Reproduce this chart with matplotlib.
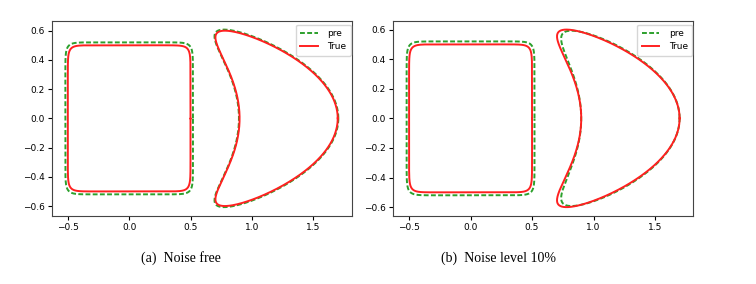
#!/usr/bin/env python3
"""Reconstructed boundaries vs. true shapes, noise free and 10% noise."""

import numpy as np
import matplotlib

matplotlib.use("Agg")
import matplotlib.pyplot as plt

# panel captions
captions = ["(a)  Noise free", "(b)  Noise level 10%"]
legend_labels = ["pre", "True"]

# rounded square: half widths (x, y) and superellipse exponent
square_true_half = [0.5, 0.5]
square_pre_half = [[0.52, 0.52], [0.52, 0.52]]
square_power = 14

# kite: centre x, scales (x, y), shape parameter
kite_center = 1.3
kite_true_scale = [0.4, 0.4]
kite_true_a = 0.65
kite_pre_scale = [[0.405, 0.405], [0.4, 0.395]]
kite_pre_a = [0.65, 0.6]

t = np.linspace(0, 2 * np.pi, 800)

GREEN = "#2ca02c"
RED = "#ff2020"
DASH = (2.5, 1.2)


def square(half):
    c, s = np.cos(t), np.sin(t)
    e = 2.0 / square_power
    return (half[0] * np.sign(c) * np.abs(c) ** e,
            half[1] * np.sign(s) * np.abs(s) ** e)


def kite(scale, a):
    # kite with its smooth nose pointing to +x
    x = np.cos(t) + a * np.cos(2 * t) - a
    y = 1.5 * np.sin(t)
    return kite_center + scale[0] * x, scale[1] * y


fig = plt.figure(figsize=(7.56, 2.84), dpi=100)
lefts = [0.0684, 0.5198]
caption_x = [181 / 756, 499 / 756]

for i in range(2):
    ax = fig.add_axes([lefts[i], 0.2394, 0.3972, 0.6877])
    px, py = square(square_pre_half[i])
    ax.plot(px, py, color=GREEN, ls="--", lw=1.4, dashes=DASH, label=legend_labels[0])
    tx, ty = square(square_true_half)
    ax.plot(tx, ty, color=RED, lw=1.4, label=legend_labels[1])
    kx, ky = kite(kite_pre_scale[i], kite_pre_a[i])
    ax.plot(kx, ky, color=GREEN, ls="--", lw=1.4, dashes=DASH)
    kx, ky = kite(kite_true_scale, kite_true_a)
    ax.plot(kx, ky, color=RED, lw=1.4)

    ax.tick_params(labelsize=6.5, length=3, width=0.8, pad=2)
    for sp in ax.spines.values():
        sp.set_linewidth(0.8)
        sp.set_color("#444444")
    ax.legend(loc="upper right", bbox_to_anchor=(0.997, 0.98), borderaxespad=0,
              fontsize=6.5, handlelength=1.9, borderpad=0.5, labelspacing=0.45,
              handletextpad=1.1)

    fig.text(caption_x[i], 0.092, captions[i], ha="center", va="center",
             family="Liberation Serif", fontsize=10)

fig.savefig("out.png", dpi=100)
